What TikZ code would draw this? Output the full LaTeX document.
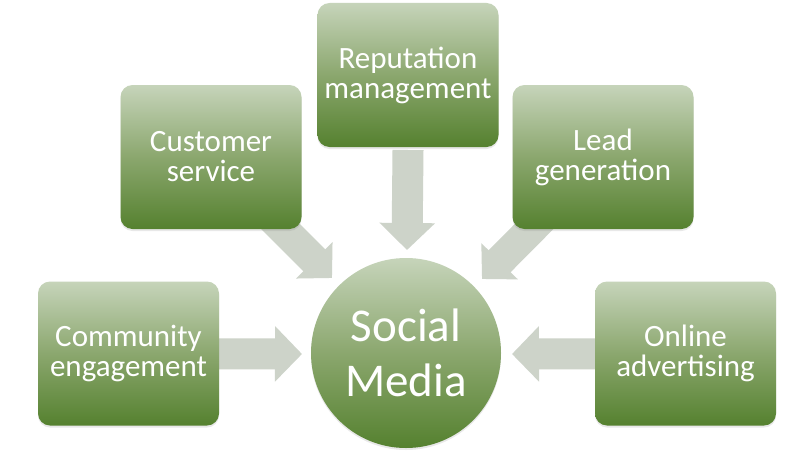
\documentclass[tikz,border=0pt]{standalone}
\usepackage{fontspec}
\setmainfont{Carlito}
\usetikzlibrary{arrows.meta,shadows}
\pgfdeclarelayer{back}
\pgfdeclarelayer{bg}
\pgfsetlayers{back,bg,main}
\definecolor{gtop}{HTML}{C6D4BA}
\definecolor{gmid}{HTML}{8BA76E}
\definecolor{gbot}{HTML}{55812F}
\definecolor{arr}{HTML}{CDD3C9}
\tikzset{
  gbox/.style={rounded corners=12pt, minimum width=181pt, minimum height=144pt,
    top color=gtop, bottom color=gbot, middle color=gmid, text=white,
    align=center, font=\fontsize{31}{30}\selectfont, inner sep=0pt,
    drop shadow={opacity=0.18, shadow xshift=0pt, shadow yshift=-2pt}},
  hub/.style={circle, minimum size=190pt, inner sep=0pt,
    top color=gtop, bottom color=gbot, middle color=gmid, text=white,
    align=center, font=\fontsize{47}{55}\selectfont,
    drop shadow={opacity=0.18, shadow xshift=0pt, shadow yshift=-2pt}},
  blockarrow/.style={draw=arr, line width=31pt, -{Triangle[width=54pt,length=27pt]}},
  diagarrow/.style={draw=arr, line width=31pt, -{Triangle[width=50pt,length=25pt]}}
}
\begin{document}
\begin{tikzpicture}[x=1pt,y=-1pt]
\useasboundingbox (0,0) rectangle (786,460);
\begin{pgfonlayer}{back}
\fill[white] (0,0) rectangle (786,460);
\end{pgfonlayer}

\node[gbox] (cs) at (211,157) {Customer\\service};
\node[gbox] (rep) at (408,75) {Reputation\\management};
\node[gbox] (lead) at (603,157) {Lead\\generation};
\node[gbox] (comm) at (128.5,353.5) {Community\\engagement};
\node[gbox] (online) at (685.5,353.5) {Online\\advertising};
\node[hub] (sm) at (406,353) {Social\\Media};

\coordinate (tcs) at (332,278);
\coordinate (trep) at (407,250);
\coordinate (tlead) at (482,279);
\coordinate (tcomm) at (302,354);
\coordinate (tonline) at (512,354);

\begin{pgfonlayer}{bg}
\draw[diagarrow] (cs.center) -- (tcs);
\draw[blockarrow] (rep.center |- 0,150) -- (trep);
\draw[diagarrow] (lead.center) -- (tlead);
\draw[blockarrow] (comm.center) -- (tcomm);
\draw[blockarrow] (online.center) -- (tonline);
\end{pgfonlayer}
\end{tikzpicture}
\end{document}
